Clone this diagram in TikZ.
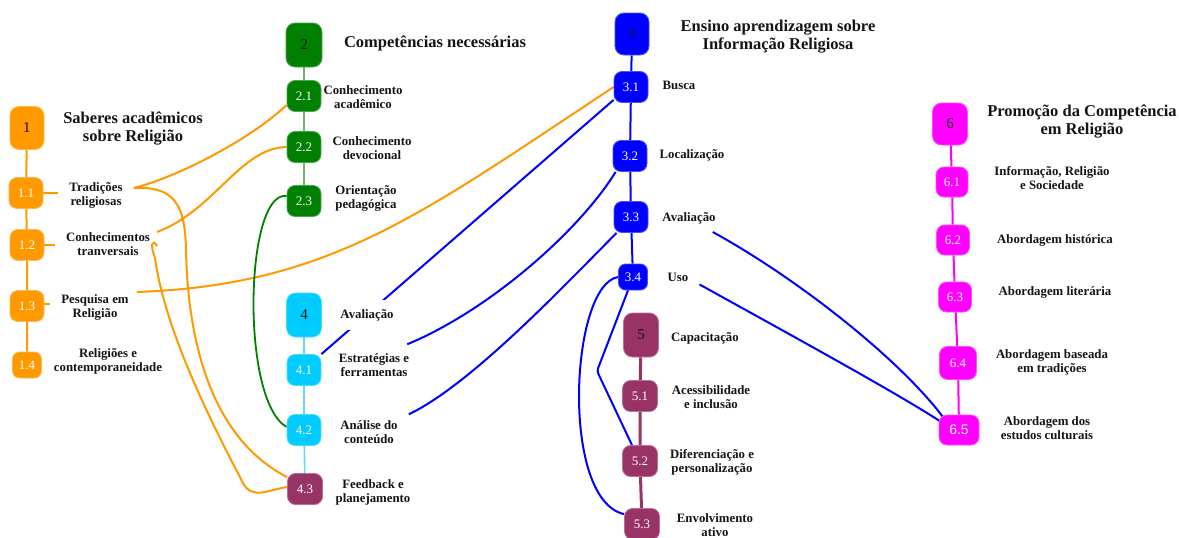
\documentclass[tikz,border=0pt]{standalone}
\usepackage{fontspec}
\setmainfont{Liberation Serif}
\setsansfont{Liberation Sans}
\usetikzlibrary{calc}
\pgfdeclarelayer{bgzero}
\pgfdeclarelayer{background}
\pgfsetlayers{bgzero,background,main}
\definecolor{cOr}{RGB}{255,153,0}
\definecolor{cGr}{RGB}{0,128,0}
\definecolor{cGrL}{RGB}{110,180,110}
\definecolor{cBl}{RGB}{0,0,255}
\definecolor{cCy}{RGB}{0,204,255}
\definecolor{cCyL}{RGB}{100,215,255}
\definecolor{cMa}{RGB}{153,51,102}
\definecolor{cMg}{RGB}{255,0,255}
\definecolor{cTx}{RGB}{20,20,20}
\begin{document}
\begin{tikzpicture}[x=1pt,y=-1pt,
  box/.style={rounded corners=9pt, inner sep=0pt, line width=0.8pt, text=cTx, font=\fontsize{15}{15}\selectfont},
  topbox/.style={box, minimum width=34pt, minimum height=43pt},
  subbox/.style={box, rounded corners=8pt, minimum width=34pt, minimum height=31pt, text=white, font=\fontsize{13}{13}\selectfont},
  smallbox/.style={subbox, rounded corners=7pt, minimum width=29pt, minimum height=26pt},
  orfill/.style={fill=cOr, draw=cOr!70!white},
  grfill/.style={fill=cGr, draw=cGr!70!white},
  blfill/.style={fill=cBl, draw=cBl!70!white},
  cyfill/.style={fill=cCy, draw=cCy!70!white},
  mafill/.style={fill=cMa, draw=cMa!70!white},
  mgfill/.style={fill=cMg, draw=cMg!70!white},
  lab/.style={align=center, inner xsep=11pt, inner ysep=3pt, text=cTx, font=\bfseries\fontsize{12.8}{14}\selectfont},
  ttl/.style={align=center, inner sep=2pt, text=cTx, font=\bfseries\fontsize{16.5}{18}\selectfont},
  oline/.style={draw=cOr, line width=2pt},
  gline/.style={draw=cGr, line width=1.8pt},
  glineL/.style={draw=cGrL, line width=2pt},
  bline/.style={draw=cBl, line width=2pt},
  cline/.style={draw=cCyL, line width=1.6pt},
  mline/.style={draw=cMa, line width=3pt},
  mgline/.style={draw=cMg, line width=2pt}
]
\begin{pgfonlayer}{bgzero}
\fill[white] (0,0) rectangle (1179,538);
\end{pgfonlayer}
\useasboundingbox (0,0) rectangle (1179,538);

% column 1
\node[topbox,orfill] (n1) at (27,128) {1};
\node[subbox,orfill] (n11) at (26,193) {1.1};
\node[subbox,orfill] (n12) at (27,245) {1.2};
\node[subbox,orfill] (n13) at (27,306) {1.3};
\node[smallbox,orfill] (n14) at (27,365) {1.4};
\node[ttl] (l1) at (133,129) {Saberes acadêmicos\\sobre Religião};
\node[lab] (l11) at (96,195) {Tradições\\religiosas};
\node[lab] (l12) at (108,244) {Conhecimentos\\tranversais};
\node[lab] (l13) at (95,307) {Pesquisa em\\Religião};
\node[lab] (l14) at (108,361) {Religiões e\\contemporaneidade};

% column 2
\node[topbox,grfill,minimum width=36pt,minimum height=44pt] (n2) at (304,45) {2};
\node[subbox,grfill] (n21) at (304,96) {2.1};
\node[subbox,grfill] (n22) at (304,147) {2.2};
\node[subbox,grfill] (n23) at (304,201) {2.3};
\node[ttl] (l2) at (435,43) {Competências necessárias};
\node[lab] (l21) at (363,97) {Conhecimento\\acadêmico};
\node[lab] (l22) at (372,148) {Conhecimento\\devocional};
\node[lab] (l23) at (366,198) {Orientação\\pedagógica};

% column 4
\node[topbox,cyfill,minimum width=35pt,minimum height=44pt] (n4) at (304,315) {4};
\node[subbox,cyfill] (n41) at (304,370) {4.1};
\node[subbox,cyfill] (n42) at (304,430) {4.2};
\node[subbox,mafill,minimum width=35pt] (n43) at (305,489) {4.3};
\node[lab,fill=white,inner ysep=9pt] (l4) at (367,315) {Avaliação};
\node[lab] (l41) at (374,365) {Estratégias e\\ferramentas};
\node[lab] (l42) at (369,432) {Análise do\\conteúdo};
\node[lab] (l43) at (373,492) {Feedback e\\planejamento};

% column 3
\node[topbox,blfill,minimum height=42pt] (n3) at (632,34) {3};
\node[subbox,blfill] (n31) at (631,87) {3.1};
\node[subbox,blfill] (n32) at (630,156) {3.2};
\node[subbox,blfill] (n33) at (631,217) {3.3};
\node[smallbox,blfill] (n34) at (633,277) {3.4};
\node[ttl] (l3) at (778,37) {Ensino aprendizagem sobre\\Informação Religiosa};
\node[lab] (l31) at (679,85) {Busca};
\node[lab] (l32) at (692,155) {Localização};
\node[lab] (l33) at (689,218) {Avaliação};
\node[lab] (l34) at (678,277) {Uso};

% column 5
\node[topbox,mafill,minimum width=35pt,minimum height=44pt] (n5) at (641,335) {5};
\node[subbox,mafill,minimum width=35pt] (n51) at (640,396) {5.1};
\node[subbox,mafill,minimum width=35pt] (n52) at (640,461) {5.2};
\node[subbox,mafill,minimum width=35pt] (n53) at (642,524) {5.3};
\node[lab] (l5) at (705,338) {Capacitação};
\node[lab] (l51) at (711,397) {Acessibilidade\\e inclusão};
\node[lab] (l52) at (712,462) {Diferenciação e\\personalização};
\node[lab] (l53) at (715,525) {Envolvimento\\ativo};

% column 6
\node[topbox,mgfill,minimum width=35pt,minimum height=42pt] (n6) at (950,124) {6};
\node[subbox,mgfill,minimum width=32pt,minimum height=30pt] (n61) at (952,182) {6.1};
\node[subbox,mgfill,minimum width=33pt,minimum height=30pt] (n62) at (953,240) {6.2};
\node[subbox,mgfill,minimum width=33pt,minimum height=30pt] (n63) at (955,297) {6.3};
\node[subbox,mgfill,minimum width=37pt,minimum height=33pt] (n64) at (958,363) {6.4};
\node[subbox,mgfill,minimum width=40pt,minimum height=30pt,font=\sffamily\fontsize{14}{14}\selectfont] (n65) at (959,430) {6.5};
\node[ttl] (l6) at (1082,122) {Promoção da Competência\\em Religião};
\node[lab] (l61) at (1052,178) {Informação, Religião\\e Sociedade};
\node[lab] (l62) at (1055,240) {Abordagem histórica};
\node[lab] (l63) at (1055,292) {Abordagem literária};
\node[lab] (l64) at (1052,362) {Abordagem baseada\\em tradições};
\node[lab] (l65) at (1047,428) {Abordagem dos\\estudos culturais};

\coordinate (k52) at (597,371);

\begin{pgfonlayer}{background}
% column spines
\draw[oline] (n1) -- (n11) -- (n12) -- (n13) -- (n14);
\draw[oline] (n11.east) -- (n11.east -| l11.west);
\draw[oline] (n12.east) -- (n12.east -| l12.west);
\draw[oline] ([yshift=2pt]n13.east) -- ([yshift=2pt]n13.east -| l13.west);
\draw[glineL] (n2) -- (n21) -- (n22) -- (n23);
\draw[bline] (n3) -- (n31) -- (n32) -- (n33) -- (n34);
\draw[cline] (n4) -- (n41) -- (n42) -- (n43);
\draw[mline] (n5) -- (n51) -- (n52) -- (n53);
\draw[mgline] (n6) -- (n61) -- (n62) -- (n63) -- (n64) -- (n65);

% orange cross links
\draw[oline] ([yshift=7pt]l11.east) .. controls (175,178) and (250,140) .. ([yshift=-9pt]n21.west);
\draw[oline] ([yshift=7pt]l11.east) .. controls (175,186) and (185,205) .. (186,250)
   .. controls (188,350) and (215,440) .. ([yshift=-4pt]n43.north west);
\draw[oline] ([xshift=-4pt,yshift=-2pt]l12.east) .. controls (152,238) and (150,245) .. (155,258)
   .. controls (165,330) and (210,420) .. (243,483)
   .. controls (252,500) and (268,490) .. ([yshift=2pt]n43.west);
\draw[oline] ([xshift=-4pt,yshift=12pt]l12.east) .. controls (215,210) and (240,148) .. (n22.west);
\draw[oline] ([xshift=-3pt,yshift=15pt]l13.east) .. controls (330,285) and (420,215) .. (n31.west);

% green link
\draw[gline] ([yshift=5pt]n23.west) .. controls (245,190) and (240,400) .. ([yshift=3pt]n42.west);

% blue links
\draw[bline] ([yshift=3pt]n31.south west) -- (n41.north east);
\draw[bline] ([xshift=3pt]n32.south west) .. controls (580,230) and (490,310) .. ([xshift=-13pt,yshift=6pt]l41.north east);
\draw[bline] ([xshift=3pt]n33.south west) .. controls (560,290) and (470,385) .. ([yshift=3pt]l42.north east);
\draw[bline] ([xshift=-14pt,yshift=-5pt]l33.south east) .. controls (800,280) and (900,360) .. ([xshift=4pt,yshift=-2pt]n65.north west);
\draw[bline] (l34.south east) .. controls (800,340) and (900,395) .. ([xshift=2pt,yshift=-7pt]n65.north west);
\draw[bline] (n34.west) .. controls (570,285) and (560,500) .. ([yshift=-6pt]n53.north west);
\draw[bline,rounded corners=3pt] ([xshift=-5pt]n34.south) -- (k52) -- ([xshift=-8pt]n52.north);
\end{pgfonlayer}
\end{tikzpicture}
\end{document}
